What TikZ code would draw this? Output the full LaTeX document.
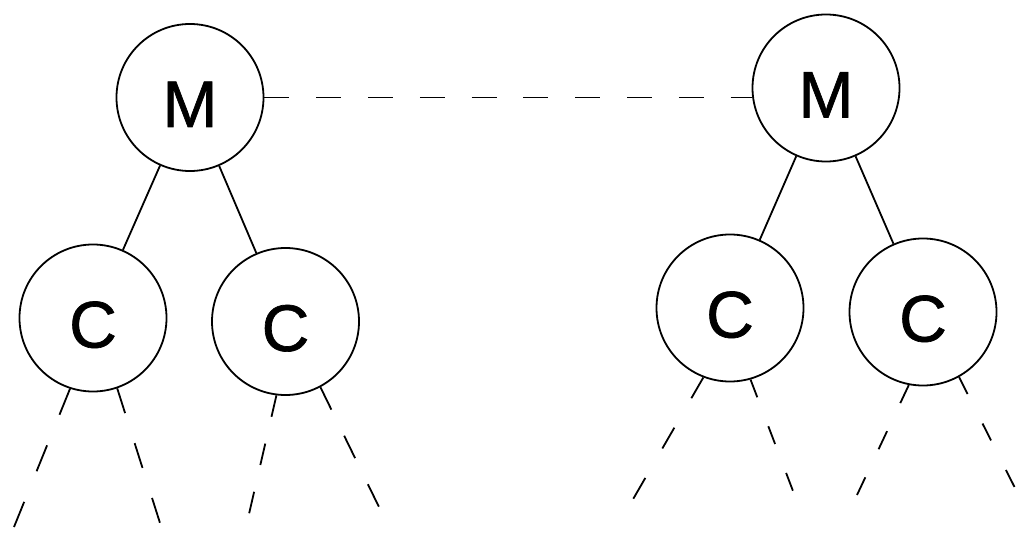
\documentclass[tikz,border=0pt]{standalone}
\usepackage{fontspec}
\setmainfont{Liberation Sans}
\newfontfamily\ballfont[FakeBold=1]{Liberation Sans}
\begin{document}
\begin{tikzpicture}[x=1pt,y=-1pt,
  ball/.style={circle, draw, line width=1.8pt, minimum size=147pt, inner sep=0pt,
    font=\ballfont\fontsize{66pt}{66pt}\selectfont, text height=59pt, text depth=0pt},
  link/.style={draw, line width=1.8pt},
  tie/.style={draw, line width=1.8pt, dash pattern=on 25pt off 26.8pt},
  trail/.style 2 args={draw, line width=1.8pt, dash pattern=on #1pt off #2pt}]
  \useasboundingbox[fill=white] (0,0) rectangle (1016,534);

  % masters
  \node[ball] (m1) at (190,97.5) {M};
  \node[ball] (m2) at (826,88) {M};

  % children
  \node[ball] (c11) at (93,318)      {C};
  \node[ball] (c12) at (285.5,321.5) {C};
  \node[ball] (c21) at (730,308)     {C};
  \node[ball] (c22) at (923,312)     {C};

  % link between the two masters
  \draw[tie] (m1.east) -- (m1.east -| m2.west);

  % tree edges
  \draw[link] (m1) -- (c11);
  \draw[link] (m1) -- (c12);
  \draw[link] (m2) -- (c21);
  \draw[link] (m2) -- (c22);

  % open ends of the subtrees
  \coordinate (e1) at (14,527);
  \coordinate (e2) at (160,523);
  \coordinate (e3) at (249,514);
  \coordinate (e4) at (379,507);
  \coordinate (e5) at (632,501);
  \coordinate (e6) at (793,491);
  \coordinate (e7) at (857,495);
  \coordinate (e8) at (1015,488);

  \draw[trail={28}{33}]   (c11.252) -- (e1);
  \draw[trail={26}{31.5}] (c11.289) -- (e2);
  \draw[trail={22}{27.5}] (c12.263.5) -- (e3);
  \draw[trail={25}{29}]   (c12.298.5) -- (e4);
  \draw[trail={24}{34}]   (c21.249.4) -- (e5);
  \draw[trail={19}{31}]   (c21.286.3) -- (e6);
  \draw[trail={20}{31}]   (c22.259) -- (e7);
  \draw[trail={19}{33}]   (c22.299.6) -- (e8);
\end{tikzpicture}
\end{document}
